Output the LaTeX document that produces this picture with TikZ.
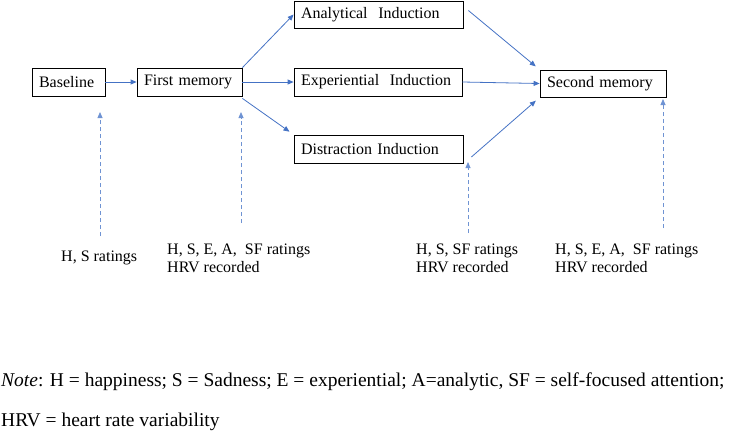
\documentclass[tikz,border=0pt]{standalone}
\usepackage{fontspec}
\setmainfont{Liberation Serif}
\usetikzlibrary{arrows.meta,calc}
\definecolor{arr}{HTML}{4472C4}
\definecolor{arrl}{HTML}{6F93D3}
\begin{document}
\begin{tikzpicture}[x=1pt,y=-1pt,
  font=\fontsize{16}{18}\selectfont,
  box/.style={draw=black,line width=0.8pt,inner xsep=7pt,inner ysep=0pt,align=left,minimum height=28pt},
  flow/.style={draw=arr,line width=0.8pt,-{Triangle[length=6pt,width=5pt]}},
  meas/.style={draw=arrl,line width=0.8pt,dash pattern=on 4pt off 3pt,-{Triangle[length=6pt,width=5pt]}},
  lbl/.style={inner sep=0pt,align=left,anchor=north west}]
\useasboundingbox (0,0) rectangle (731,440);
\node[box,text width=59pt] (bl) at (68.5,82) {Baseline};
\node[box,text width=91pt] (fm) at (189.5,82) {First memory};
\node[box,text width=155pt,minimum height=27pt] (an) at (378.5,14.5) {Analytical\ \ Induction};
\node[box,text width=154pt] (ex) at (378,82) {Experiential\ \ Induction};
\node[box,text width=155pt] (di) at (378.5,149) {Distraction Induction};
\node[box,text width=112pt,minimum height=27pt] (sm) at (603,83.5) {Second memory};
\draw[flow] (bl.east) -- (fm.west);
\draw[flow] (fm.north east) -- (an.west);
\draw[flow] (fm.east) -- (ex.west);
\draw[flow,shorten >=5pt] ($(fm.south east)+(0,2)$) -- (di.north west);
\draw[flow,shorten >=5pt] ($(an.east)+(5,-4)$) -- (sm.north west);
\draw[flow] (ex.east) -- (sm.west);
\draw[flow,shorten >=5pt] ($(di.east)+(8,8)$) -- (sm.south west);
\coordinate (d1) at (100,236);
\coordinate (d2) at (241,223);
\coordinate (d3) at (468,233);
\coordinate (d4) at (663,228);
\draw[meas] (d1) -- (100,112);
\draw[meas] (d2) -- (241,112);
\draw[meas] (d3) -- (468,162);
\draw[meas] (d4) -- (663,99);
\node[lbl] (l1) at (61,251) {H, S ratings};
\node[lbl] (l2) at (167,244) {H, S, E, A,\ \ SF ratings\\HRV recorded};
\node[lbl] (l3) at (416,244) {H, S, SF ratings\\HRV recorded};
\node[lbl] (l4) at (555,244) {H, S, E, A,\ \ SF ratings\\HRV recorded};
\node[inner sep=0pt,anchor=west,font=\fontsize{19.5}{22}\selectfont] (n1) at (1,382) {\textit{Note}: H = happiness; S = Sadness; E = experiential; A=analytic, SF = self-focused attention;};
\node[inner sep=0pt,anchor=west,font=\fontsize{19.5}{22}\selectfont] (n2) at (1,422) {HRV = heart rate variability};
\end{tikzpicture}
\end{document}
